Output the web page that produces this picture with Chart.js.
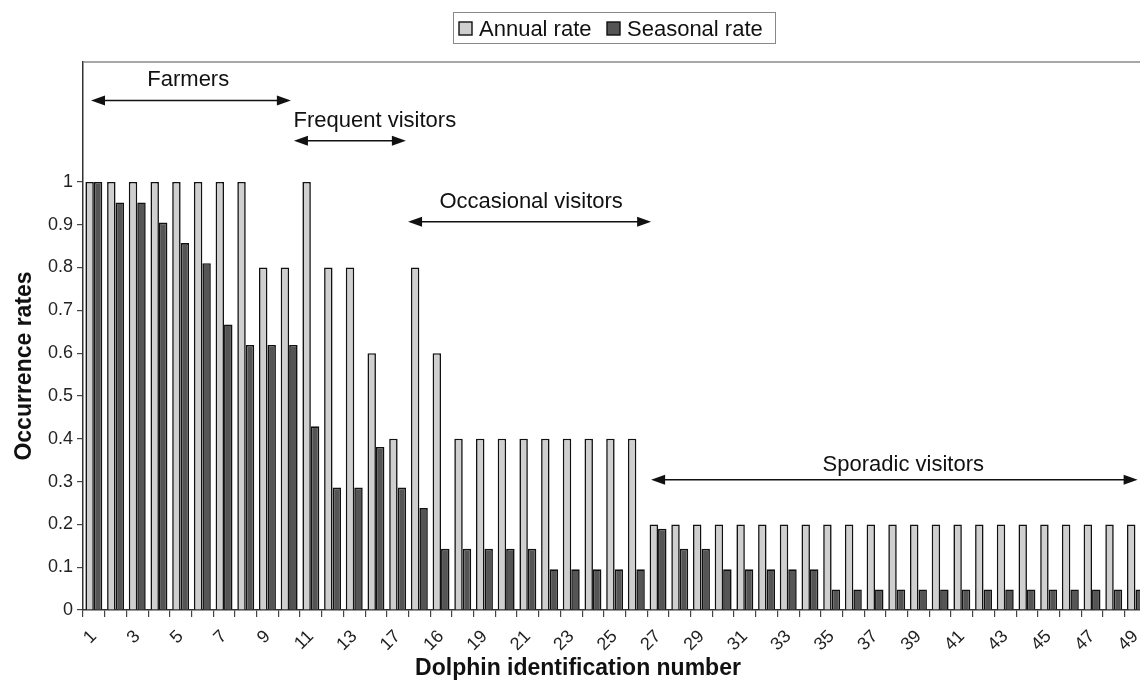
<!DOCTYPE html>
<html>
<head>
<meta charset="utf-8">
<script src="https://cdn.jsdelivr.net/npm/chart.js@4.4.1/dist/chart.umd.min.js"></script>
<style>
  html, body { margin: 0; padding: 0; background: #fff; overflow: hidden; width: 1140px; height: 687px; }
  #wrap { position: absolute; left: 0; top: 0; width: 1175px; height: 687px; }
</style>
</head>
<body>
<div id="wrap"><canvas id="c" width="1175" height="687"></canvas></div>
<script>
// ---- data ----
const categories = ["1","2","3","4","5","6","7","8","9","10","11","12","13","14","17","15","16","18",
  "19","20","21","22","23","24","25","26","27","28","29","30","31","32","33","34","35","36","37","38",
  "39","40","41","42","43","44","45","46","47","48","49","50"];
const annualRate = [1,1,1,1,1,1,1,1,0.8,0.8,1,0.8,0.8,0.6,0.4,0.8,0.6,
  0.4,0.4,0.4,0.4,0.4,0.4,0.4,0.4,0.4,
  0.2,0.2,0.2,0.2,0.2,0.2,0.2,0.2,0.2,0.2,0.2,0.2,0.2,0.2,0.2,0.2,0.2,0.2,0.2,0.2,0.2,0.2,0.2,0.2];
const seasonalRate = [1,0.952,0.952,0.905,0.857,0.81,0.667,0.619,0.619,0.619,0.429,0.286,0.286,0.381,0.286,0.238,
  0.143,0.143,0.143,0.143,0.143,0.095,0.095,0.095,0.095,0.095,0.19,0.143,0.143,0.095,0.095,0.095,0.095,0.095,
  0.048,0.048,0.048,0.048,0.048,0.048,0.048,0.048,0.048,0.048,0.048,0.048,0.048,0.048,0.048,0.048];
const yTickValues = [0,0.1,0.2,0.3,0.4,0.5,0.6,0.7,0.8,0.9,1];
const seriesNames = ["Annual rate", "Seasonal rate"];
const groups = [
  {text: "Farmers", from: -0.13, to: 9.08, level: 1.19, labelAt: 4.35, labelLevel: 1.237},
  {text: "Frequent visitors", from: 9.22, to: 14.38, level: 1.096, labelAt: 12.95, labelLevel: 1.143},
  {text: "Occasional visitors", from: 14.48, to: 25.68, level: 0.907, labelAt: 20.15, labelLevel: 0.952},
  {text: "Sporadic visitors", from: 25.68, to: 48.1, level: 0.304, labelAt: 37.3, labelLevel: 0.339}
];
// ---- styles ----
const FONT = '"Liberation Sans", Arial, Helvetica, sans-serif';
const LIGHT = '#cfcfcf', DARK = '#555555', EDGE = '#111111';
Chart.defaults.font.family = FONT;
Chart.defaults.color = '#222';

function arrowHead(ctx, x, y, dir) {
  ctx.beginPath();
  ctx.moveTo(x, y);
  ctx.lineTo(x - dir * 14, y - 5);
  ctx.lineTo(x - dir * 14, y + 5);
  ctx.closePath();
  ctx.fill();
}

const decor = {
  id: 'decor',
  afterDraw(chart) {
    const ctx = chart.ctx, xs = chart.scales.x, ys = chart.scales.y, a = chart.chartArea;
    ctx.save();
    // plot frame (top and right)
    ctx.strokeStyle = '#8a8a8a'; ctx.lineWidth = 1.5;
    ctx.beginPath();
    ctx.moveTo(a.left, a.top); ctx.lineTo(a.right, a.top); ctx.lineTo(a.right, a.bottom);
    ctx.stroke();
    // group annotations
    ctx.fillStyle = '#111'; ctx.strokeStyle = '#111'; ctx.lineWidth = 1.5;
    ctx.font = '22px ' + FONT; ctx.textAlign = 'center'; ctx.textBaseline = 'middle';
    groups.forEach(g => {
      const x1 = xs.getPixelForValue(g.from), x2 = xs.getPixelForValue(g.to), py = ys.getPixelForValue(g.level);
      ctx.beginPath(); ctx.moveTo(x1 + 6, py); ctx.lineTo(x2 - 6, py); ctx.stroke();
      arrowHead(ctx, x1, py, -1); arrowHead(ctx, x2, py, 1);
      ctx.fillText(g.text, xs.getPixelForValue(g.labelAt), ys.getPixelForValue(g.labelLevel));
    });
    // axis titles
    ctx.font = 'bold 23px ' + FONT;
    ctx.fillText('Dolphin identification number', 578, 669);
    ctx.save();
    ctx.translate(25, ys.getPixelForValue(0.57));
    ctx.rotate(-Math.PI / 2);
    ctx.fillText('Occurrence rates', 0, 0);
    ctx.restore();
    // legend
    const lx = 453, ly = 12, lw = 322, lh = 31;
    ctx.strokeStyle = '#888'; ctx.lineWidth = 1;
    ctx.strokeRect(lx + 0.5, ly + 0.5, lw, lh);
    ctx.font = '22px ' + FONT; ctx.textAlign = 'left';
    const cy = ly + lh / 2 + 1;
    const items = [{x: 459, c: LIGHT, t: seriesNames[0]}, {x: 607, c: DARK, t: seriesNames[1]}];
    items.forEach(it => {
      ctx.fillStyle = it.c; ctx.fillRect(it.x, cy - 6.5, 13, 13);
      ctx.strokeStyle = EDGE; ctx.lineWidth = 1.4; ctx.strokeRect(it.x, cy - 6.5, 13, 13);
      ctx.fillStyle = '#111'; ctx.fillText(it.t, it.x + 20, cy + 1);
    });
    ctx.restore();
  }
};

new Chart(document.getElementById('c'), {
  type: 'bar',
  data: {
    labels: categories,
    datasets: [
      {label: seriesNames[0], data: annualRate, backgroundColor: LIGHT, borderColor: EDGE, borderWidth: 1.6,
       categoryPercentage: 0.78, barPercentage: 1.0},
      {label: seriesNames[1], data: seasonalRate, backgroundColor: DARK, borderColor: EDGE, borderWidth: 1.6,
       categoryPercentage: 0.78, barPercentage: 1.0}
    ]
  },
  options: {
    responsive: false,
    devicePixelRatio: 1,
    animation: false,
    layout: {padding: {top: 62, right: 7, left: 0, bottom: 0}},
    plugins: {legend: {display: false}, tooltip: {enabled: false}, title: {display: false}},
    scales: {
      x: {
        type: 'category',
        afterFit: s => { s.height = 77; s.paddingRight = 0; },
        grid: {display: true, offset: true, drawOnChartArea: false, drawTicks: true, tickLength: 7, color: '#444', lineWidth: 1.2},
        border: {display: true, color: '#333', width: 1.5},
        ticks: {
          autoSkip: false, maxRotation: 45, minRotation: 45, padding: 9,
          font: {size: 18}, color: '#222',
          callback: function(v, i) { return i % 2 === 0 ? categories[i] : ''; }
        }
      },
      y: {
        min: 0, max: 1.28,
        afterFit: s => { s.width = 83; },
        afterBuildTicks: s => { s.ticks = yTickValues.map(v => ({value: v})); },
        grid: {display: true, drawOnChartArea: false, drawTicks: true, tickLength: 6, color: '#444', lineWidth: 1.2},
        border: {display: true, color: '#333', width: 1.5},
        ticks: {
          font: {size: 18}, color: '#222', padding: 4,
          callback: v => String(Math.round(v * 10) / 10)
        }
      }
    }
  },
  plugins: [decor]
});
</script>
</body>
</html>
